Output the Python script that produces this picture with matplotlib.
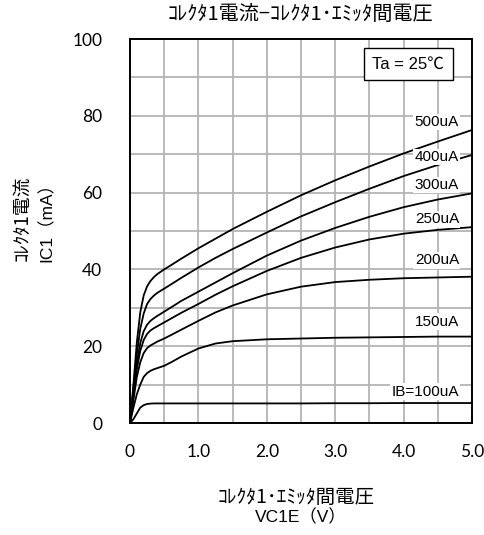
import matplotlib
matplotlib.use('Agg')
import matplotlib.pyplot as plt

# Collector-emitter voltage (V)
vce = [0, 0.05, 0.1, 0.15, 0.2, 0.25, 0.3, 0.35, 0.4, 0.5, 0.6, 0.75,
       1.0, 1.25, 1.5, 2.0, 2.5, 3.0, 3.5, 4.0, 4.5, 5.0]

# Collector current (mA) per base current
ic_500 = [0, 10, 21, 28.8, 33.2, 35.6, 37.0, 38.0, 38.8, 40.0, 41.1, 42.8,
          45.5, 48.0, 50.5, 55.0, 59.3, 63.2, 66.8, 70.2, 73.3, 76.3]
ic_400 = [0, 9, 18, 24.5, 28.5, 31.0, 32.3, 33.2, 33.9, 35.0, 36.1, 37.8,
          40.5, 43.0, 45.3, 49.6, 53.8, 57.5, 61.0, 64.3, 67.2, 69.8]
ic_300 = [0, 8, 15.5, 20.8, 23.9, 25.6, 26.6, 27.3, 27.9, 29.0, 30.1, 31.8,
          34.2, 36.6, 39.0, 43.6, 47.5, 50.8, 53.7, 56.2, 58.2, 59.8]
ic_250 = [0, 7, 14, 18.8, 21.6, 23.2, 24.1, 24.7, 25.2, 26.2, 27.2, 28.7,
          31.0, 33.4, 35.6, 39.6, 43.0, 45.7, 47.8, 49.3, 50.3, 51.0]
ic_200 = [0, 6, 12, 15.8, 18.2, 19.5, 20.2, 20.7, 21.2, 22.0, 22.9, 24.3,
          26.6, 28.8, 30.6, 33.5, 35.5, 36.7, 37.3, 37.7, 37.9, 38.1]
ic_150 = [0, 4, 7.5, 10.0, 12.0, 13.0, 13.6, 14.0, 14.3, 14.9, 15.8, 17.3,
          19.4, 20.7, 21.3, 21.8, 22.0, 22.2, 22.3, 22.4, 22.5, 22.5]
ic_100 = [0, 1.0, 2.5, 4.0, 4.65, 4.95, 5.05, 5.1, 5.1, 5.1, 5.1, 5.1,
          5.1, 5.1, 5.1, 5.1, 5.1, 5.15, 5.15, 5.2, 5.2, 5.2]

curves = [ic_500, ic_400, ic_300, ic_250, ic_200, ic_150, ic_100]
labels = ['500uA', '400uA', '300uA', '250uA', '200uA', '150uA', 'IB=100uA']
label_y = [78.4, 69.3, 62.0, 53.0, 42.4, 26.4, 8.2]

xticks = [0, 1.0, 2.0, 3.0, 4.0, 5.0]
xtick_labels = ['0', '1.0', '2.0', '3.0', '4.0', '5.0']
yticks = [0, 20, 40, 60, 80, 100]

jp = ['Noto Sans CJK JP', 'DejaVu Sans']
mixed = ['Liberation Sans', 'Noto Sans CJK JP']

W, H = 485, 535
fig = plt.figure(figsize=(W / 100, H / 100), dpi=100)
ax = fig.add_axes([130 / W, 1 - 423 / H, 342 / W, 384 / H])

for ic in curves:
    ax.plot(vce, ic, color='black', lw=1.3, zorder=3)

for lab, ly in zip(labels, label_y):
    ax.text(4.81, ly, lab, ha='right', va='center', fontsize=11,
            family='Liberation Sans', zorder=4,
            bbox=dict(facecolor='white', edgecolor='none', pad=1.0))

ax.text(4.07, 93.5, 'Ta = 25℃', ha='center', va='center', fontsize=12,
        family=mixed, zorder=5,
        bbox=dict(facecolor='white', edgecolor='black', lw=1.0,
                  boxstyle='square,pad=0.5'))

ax.set_xlim(0, 5)
ax.set_ylim(0, 100)
ax.set_xticks(xticks)
ax.set_xticklabels(xtick_labels)
ax.set_yticks(yticks)
ax.set_xticks([i * 0.5 for i in range(11)], minor=True)
ax.set_yticks(list(range(0, 101, 10)), minor=True)
ax.grid(True, which='both', color='#b4b4b4', lw=1.3, zorder=1)
ax.set_axisbelow(True)
ax.tick_params(which='both', length=0, labelsize=12.5)
ax.tick_params(axis='x', pad=15)
ax.tick_params(axis='y', pad=20)
for t in ax.get_xticklabels() + ax.get_yticklabels():
    t.set_family('Lato')
for sp in ax.spines.values():
    sp.set_linewidth(1.4)

# title and axis labels placed in pixel positions like the reference
def px_text(x, y, s, **kw):
    fig.text(x / W, 1 - y / H, s, ha='center', va='center', **kw)

px_text(300, 14, 'ｺﾚｸﾀ1電流−ｺﾚｸﾀ1･ｴﾐｯﾀ間電圧', family=jp, fontsize=14.5)
px_text(296, 497, 'ｺﾚｸﾀ1･ｴﾐｯﾀ間電圧', family=jp, fontsize=14)
px_text(301, 517, 'VC1E（V）', family=mixed, fontsize=12.5)
px_text(22, 218, 'ｺﾚｸﾀ1電流', family=jp, fontsize=13.5, rotation=90)
px_text(46, 218, 'IC1（mA）', family=mixed, fontsize=12.5, rotation=90)

fig.savefig('out.png', dpi=100)
